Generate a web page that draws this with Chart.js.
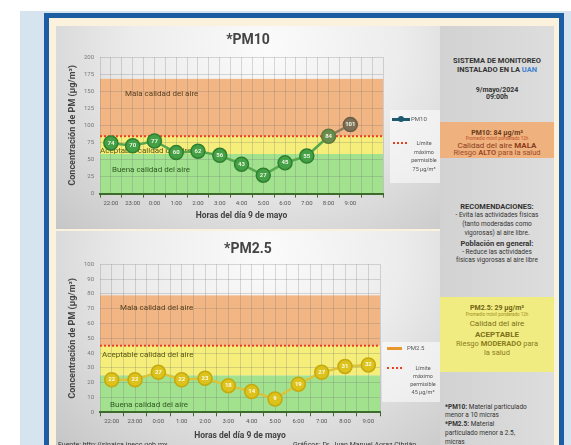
<!DOCTYPE html>
<html>
<head>
<meta charset="utf-8">
<script src="https://cdn.jsdelivr.net/npm/chart.js@4.4.1/dist/chart.umd.min.js"></script>
<style>
  html, body { margin: 0; padding: 0; width: 571px; height: 445px; overflow: hidden; background: #fff; }
  body { position: relative; font-family: 'Liberation Sans Narrow', 'Roboto', sans-serif; }
  .abs { position: absolute; }
  #bg { left: 20px; top: 11px; width: 551px; height: 434px; background: #d5e4ef; }
  #frame { left: 44px; top: 13px; width: 510px; height: 440px; border: 5px solid #1d5ea3; border-bottom: none; background: #fbf2de; }
  .panel { left: 56px; width: 384px; background: radial-gradient(ellipse at 55% 10%, #fbfbfb 0%, #ececec 45%, #c6c6c6 100%); }
  #p10 { top: 26px; height: 203px; }
  #p25 { top: 231px; height: 214px; }
  #side { left: 440px; top: 26px; width: 114px; height: 419px; background: linear-gradient(90deg, #d2d2d2, #dddddd); }
  canvas { position: absolute; left: 56px; }
  .ln { position: absolute; left: 440px; width: 114px; text-align: center; line-height: 9px; transform: translateY(-50%); white-space: nowrap; color: #333; }
  .box { position: absolute; left: 440px; width: 114px; }
  .leg { position: absolute; background: rgba(255,255,255,0.55); }
  .lt { position: absolute; font-size: 5.5px; color: #555; line-height: 8.5px; text-align: center; }
  .foot { position: absolute; font-size: 7px; color: #333; white-space: nowrap; }
</style>
</head>
<body>
<div id="bg" class="abs"></div>
<div id="frame" class="abs"></div>
<div id="p10" class="abs panel"></div>
<div id="p25" class="abs panel"></div>
<div id="side" class="abs"></div>

<canvas id="c10" width="384" height="203" style="top:26px"></canvas>
<canvas id="c25" width="384" height="214" style="top:231px"></canvas>

<!-- PM10 legend -->
<div class="leg" style="left:390px;top:110px;width:50px;height:73px"></div>
<div class="abs" style="left:392px;top:118px;width:18px;height:2.5px;background:#1e5a6e"></div>
<div class="abs" style="left:398px;top:116px;width:6px;height:6px;border-radius:50%;background:#1e5a6e"></div>
<div class="lt" style="left:411px;top:115px;font-size:6px">PM10</div>
<div class="abs" style="left:393px;top:142px;width:14px;border-top:2px dotted #e8401c"></div>
<div class="lt" style="left:408px;top:139px;width:32px">Límite<br>máximo<br>permisible<br>75 µg/m³</div>

<!-- PM2.5 legend -->
<div class="leg" style="left:382px;top:342px;width:58px;height:60px"></div>
<div class="abs" style="left:387px;top:347px;width:15px;height:2.5px;background:#e8962e"></div>
<div class="lt" style="left:407px;top:344px;font-size:6px">PM2.5</div>
<div class="abs" style="left:387px;top:367px;width:15px;border-top:2px dotted #e8401c"></div>
<div class="lt" style="left:406px;top:364px;width:34px;line-height:8px">Límite<br>máximo<br>permisible<br>45 µg/m³</div>

<!-- side panel -->
<div class="ln" style="top:59.5px;font-size:7.5px;font-weight:bold">SISTEMA DE MONITOREO</div>
<div class="ln" style="top:69px;font-size:7.5px;font-weight:bold">INSTALADO EN LA <span style="color:#3d7fd0">UAN</span></div>
<div class="ln" style="top:89.5px;font-size:7px;font-weight:bold">9/mayo/2024</div>
<div class="ln" style="top:97px;font-size:7px;font-weight:bold">09:00h</div>

<div class="box" style="top:122px;height:36px;background:#efb17d"></div>
<div class="ln" style="top:132.5px;font-size:7px;font-weight:bold;color:#6b3818">PM10: 84 µg/m³</div>
<div class="ln" style="top:138px;font-size:4.5px;color:#c0502a">Promedio móvil ponderado 12h</div>
<div class="ln" style="top:144.5px;font-size:8px;color:#8b3c1c">Calidad del aire <b>MALA</b></div>
<div class="ln" style="top:152px;font-size:7.5px;color:#a04a2a">Riesgo <b>ALTO</b> para la salud</div>

<div class="ln" style="top:206px;font-size:7.5px;font-weight:bold">RECOMENDACIONES:</div>
<div class="ln" style="top:215px;font-size:6.5px">- Evita las actividades físicas</div>
<div class="ln" style="top:224px;font-size:6.5px">(tanto moderadas como</div>
<div class="ln" style="top:233px;font-size:6.5px">vigorosas) al aire libre.</div>
<div class="ln" style="top:243px;font-size:7.5px;font-weight:bold">Población en general:</div>
<div class="ln" style="top:251.5px;font-size:6.5px">- Reduce las actividades</div>
<div class="ln" style="top:260px;font-size:6.5px">físicas vigorosas al aire libre</div>

<div class="box" style="top:297px;height:75px;background:#f1ec82"></div>
<div class="ln" style="top:307.5px;font-size:7px;font-weight:bold;color:#6e6210">PM2.5: 29 µg/m³</div>
<div class="ln" style="top:314px;font-size:4.5px;color:#a09020">Promedio móvil ponderado 12h</div>
<div class="ln" style="top:323px;font-size:8px;color:#7d7018">Calidad del aire</div>
<div class="ln" style="top:333.5px;font-size:8px;font-weight:bold;color:#7d7018">ACEPTABLE</div>
<div class="ln" style="top:343px;font-size:7.5px;color:#8a7c1c">Riesgo <b>MODERADO</b> para</div>
<div class="ln" style="top:352px;font-size:7.5px;color:#8a7c1c">la salud</div>

<div class="foot" style="left:445px;top:402.5px;font-size:6.5px"><b>*PM10:</b> Material particulado</div>
<div class="foot" style="left:445px;top:411px;font-size:6.5px">menor a 10 micras</div>
<div class="foot" style="left:445px;top:420px;font-size:6.5px"><b>*PM2.5:</b> Material</div>
<div class="foot" style="left:445px;top:429px;font-size:6.5px">particulado menor a 2.5,</div>
<div class="foot" style="left:445px;top:438px;font-size:6.5px">micras</div>

<div class="foot" style="left:58px;top:440.5px">Fuente: http://sinaica.inecc.gob.mx</div>
<div class="foot" style="left:293px;top:440.5px">Gráficos: Dr. Juan Manuel Agraz Cibrián</div>

<script>
const FONT = "'Liberation Sans Narrow', 'Roboto', sans-serif";
Chart.defaults.font.family = FONT;

// categories
const hours = ['22:00', '23:00', '0:00', '1:00', '2:00', '3:00', '4:00', '5:00', '6:00', '7:00', '8:00', '9:00'];
const pm10Hours = hours.concat(['']);

// measured values (µg/m³)
const pm10Values = [74, 70, 77, 60, 62, 56, 43, 27, 45, 55, 84, 101];
const pm25Values = [22, 22, 27, 22, 23, 18, 14, 9, 19, 27, 31, 32];

// quality bands: top of good / acceptable / bad
const pm10Bands = [58, 84, 168];
const pm25Bands = [25, 45, 79];
const pm10Limit = 84;
const pm25Limit = 45;
const bandNames = ['Buena calidad del aire', 'Aceptable calidad del aire', 'Mala calidad del aire'];

const BAND_COLORS = ['#a2e28e', '#f5ee7a', '#f2b684'];
const BAND_TEXT = ['#2d5a22', '#5b5912', '#5a4020'];
const GRID = 'rgba(110,110,110,0.25)';

const zonesPlugin = {
  id: 'zones',
  beforeDraw(chart, args, o) {
    const { ctx, chartArea: a, scales: { y } } = chart;
    let prev = 0;
    ctx.save();
    o.tops.forEach((top, i) => {
      const y0 = y.getPixelForValue(prev), y1 = y.getPixelForValue(top);
      ctx.fillStyle = BAND_COLORS[i];
      ctx.fillRect(a.left, y1, a.right - a.left, y0 - y1);
      prev = top;
    });
    ctx.restore();
  },
  beforeDatasetsDraw(chart, args, o) {
    const { ctx, chartArea: a, scales: { y } } = chart;
    ctx.save();
    ctx.font = '8px ' + FONT;
    ctx.textBaseline = 'middle';
    o.texts.forEach((t, i) => {
      ctx.fillStyle = BAND_TEXT[i];
      ctx.fillText(bandNames[i], a.left + t.dx, y.getPixelForValue(t.at));
    });
    const ly = y.getPixelForValue(o.limit);
    ctx.strokeStyle = '#e8401c';
    ctx.lineWidth = 2;
    ctx.setLineDash([2, 2]);
    ctx.beginPath();
    ctx.moveTo(a.left, ly);
    ctx.lineTo(a.right, ly);
    ctx.stroke();
    ctx.restore();
  },
  afterDatasetsDraw(chart, args, o) {
    const { ctx } = chart;
    ctx.save();
    ctx.font = 'bold 6px ' + FONT;
    ctx.fillStyle = o.labelColor;
    ctx.textAlign = 'center';
    ctx.textBaseline = 'middle';
    const ds = chart.data.datasets[0];
    chart.getDatasetMeta(0).data.forEach((p, i) => {
      if (ds.data[i] == null) return;
      ctx.fillText(String(ds.data[i]), p.x, p.y);
    });
    ctx.restore();
  }
};

function buildChart(id, cfg) {
  return new Chart(document.getElementById(id), {
    type: 'line',
    data: {
      labels: cfg.labels,
      datasets: [{
        label: cfg.name,
        data: cfg.values,
        borderColor: cfg.line,
        borderWidth: 2.5,
        tension: 0,
        pointRadius: 7,
        pointHoverRadius: 7,
        pointBorderWidth: 1.5,
        pointBackgroundColor: cfg.pointFill,
        pointBorderColor: cfg.pointBorder,
        segment: cfg.segment || {}
      }]
    },
    options: {
      responsive: false,
      animation: false,
      events: [],
      layout: { padding: 0 },
      plugins: {
        legend: { display: false },
        tooltip: { enabled: false },
        title: {
          display: true, text: cfg.title, color: '#444',
          font: { size: 14, weight: 'bold' },
          padding: cfg.titlePad
        },
        zones: { tops: cfg.bands, limit: cfg.limit, texts: cfg.texts, labelColor: cfg.labelColor }
      },
      scales: {
        x: {
          type: 'category', offset: true,
          grid: { offset: true, color: GRID, tickColor: '#3d6b2c', tickLength: 4 },
          border: { color: '#3d6b2c', width: 2 },
          ticks: { color: '#555', font: { size: 6 }, padding: 2, maxRotation: 0, autoSkip: false },
          title: { display: true, text: 'Horas del día 9 de mayo', color: '#444',
                   font: { size: 8.5, weight: 'bold' }, padding: { top: 0, bottom: cfg.xTitlePad } },
          afterFit: s => { s.height = cfg.xHeight; }
        },
        xc: {
          type: 'category', labels: cfg.labels, offset: true, position: 'bottom',
          grid: { offset: false, color: GRID, drawTicks: false },
          border: { display: false },
          ticks: { display: false },
          afterFit: s => { s.height = 0; }
        },
        y: {
          min: 0, max: cfg.max,
          ticks: { stepSize: cfg.step / 2, callback: v => (v % cfg.step === 0 ? v : ''),
                   color: '#777', font: { size: 6 }, padding: 6 },
          grid: { color: GRID, drawTicks: false },
          border: { display: false },
          title: { display: true, text: 'Concentración de PM (µg/m³)', color: '#444',
                   font: { size: 9, weight: 'bold' }, padding: { top: 11.6, bottom: 0 } },
          afterFit: s => { s.width = 44; }
        },
        yr: {
          position: 'right', min: 0, max: 1,
          grid: { display: false }, border: { display: false }, ticks: { display: false },
          afterFit: s => { s.width = cfg.rightGap; }
        }
      }
    },
    plugins: [zonesPlugin]
  });
}

buildChart('c10', {
  name: 'PM10', title: '*PM10', labels: pm10Hours, values: pm10Values,
  max: 200, step: 25, bands: pm10Bands, limit: pm10Limit,
  texts: [{ at: 34, dx: 12 }, { at: 63, dx: 0 }, { at: 146, dx: 25 }],
  line: '#56a84f',
  pointFill: c => (c.raw >= 100 ? '#7d6f56' : c.raw >= 80 ? '#6b8b4c' : '#43a045'),
  pointBorder: c => (c.raw >= 100 ? '#6a5d47' : c.raw >= 80 ? '#5a7a3e' : '#2f7f31'),
  segment: { borderColor: c => (c.p1.parsed.y >= 100 ? '#8a7b5c' : undefined) },
  labelColor: '#eef6e0',
  titlePad: { top: 5.6, bottom: 8.6 }, xHeight: 35.4, xTitlePad: 7.6, rightGap: 57
});

buildChart('c25', {
  name: 'PM2.5', title: '*PM2.5', labels: hours, values: pm25Values,
  max: 100, step: 10, bands: pm25Bands, limit: pm25Limit,
  texts: [{ at: 5, dx: 10 }, { at: 38.7, dx: 2 }, { at: 70.5, dx: 20 }],
  line: '#d9c43a',
  pointFill: '#dcc21c', pointBorder: '#c6a90e',
  labelColor: '#fffbe6',
  titlePad: { top: 9.6, bottom: 6.9 }, xHeight: 32.7, xTitlePad: 3.6, rightGap: 60
});
</script>
</body>
</html>
